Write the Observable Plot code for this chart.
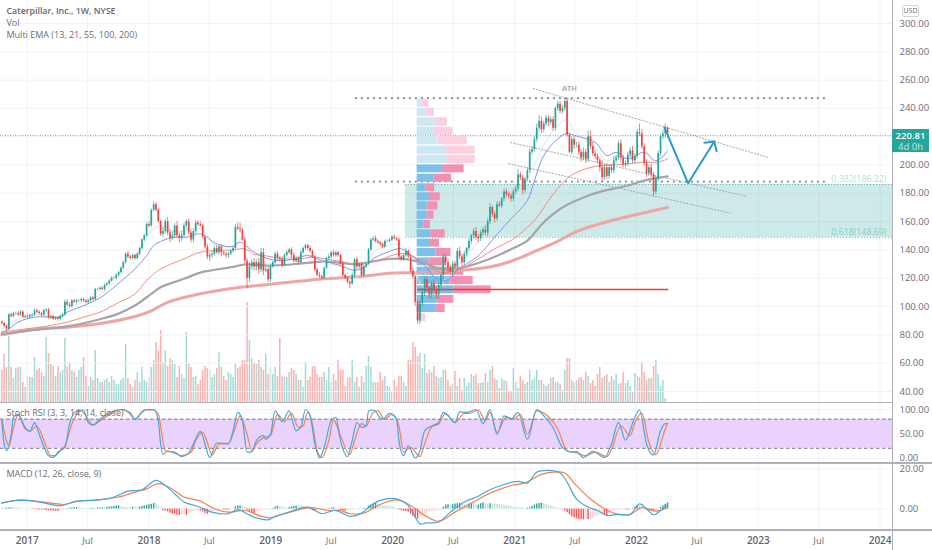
<!DOCTYPE html>
<html><head><meta charset="utf-8">
<script src="https://cdn.jsdelivr.net/npm/d3@7"></script>
<script src="https://cdn.jsdelivr.net/npm/@observablehq/plot@0.6"></script>
<style>
html,body{margin:0;padding:0;background:#fff;overflow:hidden}
#chart{position:relative;width:932px;height:550px;font-family:"Open Sans",sans-serif}
#chart svg{position:absolute;left:0;background:transparent;display:block}
.sep{position:absolute;background:#b0b1b7}
.tag{position:absolute;left:892px;top:129px;width:37px;height:23px;background:#26a69a;color:#fff;font-size:9.5px;line-height:11px;text-align:center;padding-top:1px;box-sizing:border-box}
.tag b{display:block;font-weight:600}.tag span{color:#c4e9e4}
.usd{position:absolute;left:902px;top:5px;width:15px;height:10px;border:1px solid #d5d6db;border-radius:2px;font-size:7px;line-height:10px;text-align:center;color:#6a6d78;box-sizing:content-box}
</style></head><body><div id="chart"></div>
<script>
const FONT='"Open Sans",sans-serif';
const closes=[88,86,84,94,93,95,95,94,96,92.5,
93,92.5,93.5,94,97,96,95,94,97,97.5,
92,93,91,92,91,93,94,103,101,100,
104,103,104,104,105,104,103,104,106,105,
112,112,113,112,115,116,118,120,120,122,
124,127,131,137,135,134,136,134,137,141,
147,150,158,157,168,172,168,160,151,153,
160,152,148,150,157,150,148,150,157,160,
152,147,153,159,158,157,149,142,135,136,
137,141,138,142,138,137,136,137,139,141,
156,155,154,147,132,120,128,131,128,131,
126,138,125,126,119,128,131,137,134,133,
129,136,138,140,136,132,134,131,
138,141,143,141,139,135,126,122,
121,120,127,134,135,138,136,138,136,130,
122,120,117,116,122,133,128,130,122,128,
130,140,147,148,146,145,144,142,146,146,
147,149,148,147,135,133,136,139,135,125,
121,103,90,102,110,119,113,108,116,112,
108,115,122,135,131,127,124,130,128,139,
135,131,137,141,146,150,153,149,148,152,154,152,
160,170,165,162,172,171,176,181,179,178,176,181,
183,193,191,182,190,196,209,211,218,226,231,225,
229,233,230,232,226,240,243,238,240,245,221,
209,218,214,214,209,205,209,204,220,213,208,206,203,
198,191,198,192,198,196,203,205,215,205,200,201,207,210,203,206,
223,222,213,201,194,198,193,181,190,208,220,222,226,220.81];
const wickUp=[1,1,1,1,1.5,1,1,1.5,1,1,
1,1,1,1,1.5,1,1,1,1,1,
1,1,1,1,1,1,1,1.5,2,1.5,
1,1,1,1,1,1,1,1,1,1,
1,1,1,1,1,1,1,1,1,1,
1,1,1,1,2,1,1,1,1,1,
1,1,1,2,1,2,1.5,1.5,1,3,
1.5,3,2,3,1.5,3,2,3,2,1.5,
2,2,1.5,1.5,1.5,2,1.5,1.5,2,1.5,
2,1.5,2,1,1.5,1,1,1.5,1,1,
2,3,4,1.5,2,2,3,2,3,2,
3,3,3,2,2,2,1,1.5,2,1.5,
2,1.5,1.5,1,1.5,2,1,1,
1.5,1,1,1,1.5,1,1,1,
2,1,1,1,2,1,1.5,1,1,1,
1,1,1,1,1.5,1,2,1,1,1,
1,1,1,1.5,2,1,1,1,1,1,
1,1,1.5,1,1,1,1,2,1,2,
2,1,1,2,1,2,2,2,2,3,
2,2,1,2,2,3,2,2,2,2,
3,2,2,1,2,1,2,3,2,2,2,3,
2,3,1,2,2,2,1,2,2,2,2,2,
2,4,2,2,1,2,2,2,2,3,4,3,
2,2,2,2,2,1,2,2,2,2,2,
1,2,2,2,2,2,3,2,4,4,3,2,2,
2,5,2,3,2,2,3,2,2,3,2,2,2,2,3,2,
2,6,3,2,3,2,3,2,2,2,2,3,3,1];
const wickDown=[1,1,1.5,1,1,1,1,1,1,1,
1,1,1,1,1,1,1,1,1,1,
1,1,1,1,1.5,1,1,1,1,1,
1,1,1,1,1,1,1,1,1,1,
1,1,1,1,1,1,1,1,1,1,
1,1,1,1,1,1,1,1,1,1,
1,1,1,1,1,1,1,1,1.5,2,
2,2,3,1.5,2,2,3,2,1.5,2,
1.5,2,2,1.5,1.5,1,1.5,1.5,2,3,
2,1.5,1,2,3,1,2,2,1,1,
1,1.5,2,1,2,7.5,3,2,3,3,
3,2,3,1,2,2,1,1,2,1.5,
1.5,1,1,1,2,1,1,1,
1,1,1,1,1,1,1.5,1,
1,1,1,1,1.5,1,1,1,1,1,
1,1,1,3.5,1,2,2,2,1,1,
1,1,1,1,1,1,1.5,1,1,1,
1,1,1,1,2,1,1,1,1,1,
2,3,2.5,3,2,3,3,3,3,4,
3,3,2,3,2,3,2,3,2,2,
2,3,2,2,2,2,2,2,3,2,2,2,
3,2,2,3,2,1,2,2,2,2,2,2,
2,2,2,3,2,2,2,2,2,2,2,3,
2,2,3,2,2,2,2,2,2,2,1,
1,2,3,2,2,3,2,3,2,2,2,2,2,
3,3,2,2,2,2,2,2,2,3,2,2,2,2,2,2,
2,2,2,2,3,2,2,3,2,2,2,2,3,2];
const volume=[16,24,17.5,33,17.5,12,17,17.5,17.5,10,7.5,13,12.5,12.5,22.5,16,17,15,13,32.5,24.5,19,18,13,18,15,16,32,17.5,20,16,15,12.5,16,17.5,22.5,13,8,12.5,11,26,12,10,10,11,12,10,13,11,9,9,11,12,29,12,9,7.5,11,15,10,17.5,11,10,12.5,17.5,21,30,26,36,20,26,18,22,21,19,12.5,18,14,12,35,19,17.5,12.5,13,9,11,16,18,17,16,12.5,14,17,25,17.5,13,11,15,14,12.5,19,17,18,21,21,50,31,22,20,19,21,17.5,16,24,14,17.5,14,17.5,13,32,13,12.5,12.5,15,17,16,14,11,
11,7.5,20,11,12.5,18,18,14,12.5,12.5,15,11,17.5,10,14,11,21,16,16,8,12,12.5,21,10,12.5,7.5,13,10,18,23,17.5,10,10,10,15,11,13,8,7.5,5,11,8,13,
13,10,8,21,21,30,27.5,23,24.5,17,24,14.5,16,15,18,13,12,12.5,16,16,11,8,9,15.5,8,12,6,12,8,10,14,13,14,9.5,9.5,10,14.5,10,16,18,12,11,7,12,11,10.5,5,5.5,17,10,7,13,11,9,10,16,11,12,16,11,11,9,8,9,12,12.5,10,10,9,6,16,22,22,11,10,11,12,12.5,11,15,13,9.5,11,8,14,17.5,12,13,14,10,13,11,14,9,9.5,15,9.5,11,8,5.5,14.5,13,12.5,20,15,11,12,12,18,21,14,8,11,2];
const macdHist=[.4,.4,.5,.6,.7,.7,.6,.5,.4,.2,
.1,.1,.1,-.2,-.2,-.3,-.4,-.4,-.5,-.7,
-.8,-.9,-1,-1.1,-1.2,-1,-.6,-.2,.3,.5,
.6,.7,.8,.7,.5,.3,.2,.2,.3,.4,
.4,.5,.6,.7,.7,.9,1,1.1,1.3,1.4,
1.6,1,.9,.8,.8,.7,.9,.9,.8,1,
1.3,1.6,1.9,2.1,2.4,2.8,2.6,1.4,.5,-.8,
-1,-1.4,-2,-2.3,-2.5,-3,-3.2,-2.8,-2.5,-3,
-2.2,-1.6,-1.3,-1,-.9,-.9,-1.4,-2.2,-2.6,-2.2,
-1.2,-.9,-.7,-.5,-.4,-.4,-.5,-.5,-.3,-.1,
1.1,1.5,1.6,1.4,.8,-.6,-1.6,-2.2,-2.2,-1.9,
-1.3,-.8,-.5,-.4,-.3,-.2,.3,1.1,1.4,1.2,
.9,.6,.6,.8,1.1,1.3,1.5,1.5,1.4,1.3,
1,.5,-.3,-.8,-1.2,-1.1,-.7,-.5,-.3,-.2,
.3,.5,.7,.6,.2,-.8,-1,-1.1,-.9,-.6,
-.3,-.2,.1,.2,.2,.3,.4,1.5,2,2.6,
3,2.2,1.9,1.7,1.5,1.4,1.3,1.1,.8,.4,
-.4,-.8,-1.1,-1.2,-1.5,-2.5,-3.5,-4.5,-5,-3.8,
-3,-2.4,-2,-1.6,-1.3,-1,-.7,-.5,-.3,.9,
2,2.2,1.9,2.2,2.5,2.7,3,2.9,2.3,2,
2.5,2.9,2.9,1.9,2,2.7,3.1,2.7,2.4,2.6,
2.5,2.5,2.3,2.2,2.2,1.8,1.5,1.5,1.2,1,
.9,.8,.7,.6,.3,.4,.7,1.3,2,2.5,
2.8,2.9,2.5,2.3,1.7,1.4,1.1,.7,.3,.3,
-.3,-.9,-1.8,-2.7,-3.8,-4.3,-4.8,-5.2,-5.3,-5.3,
-5.2,-5.2,-4.9,-4.5,-3.8,-3.5,-2.8,-2.4,-2.8,-3.4,
-2.6,-2,-1.2,-.8,-.5,-.3,-.2,-.3,-.4,-.3,
.3,.9,1.6,1.5,1,.3,-.5,-.9,-1.2,-1.4,
-1.2,-.4,.8,1.7,2.4,3.1];
const ema13=[[0,84],[7,91],[14,94],[25,93],[28,99],[35,103],[42,108],[49,119],[57,133],[62,148],[65,155],[69,157],[74,153],[85,155],[92,143],[99,143],[103,148],[107,138],[114,130],[121,134],[128,136],[133,136],[138,131],[145,128],[151,120],[155,127],[159,138],[165,143],[171,143],[176,128],[181,113],[186,113],[191,122],[195,128],[204,146],[212,160],[218,173],[225,190],[232,214],[238,228],[242,232],[245,224],[254,212],[259,203],[263,206],[268,205],[272,213],[275,212],[280,200],[285,212]];
const ema21=[[0,82],[2,83],[7,89],[14,92.5],[21,92.5],[25,92.5],[28,96],[35,100.7],[42,106],[49,115],[57,126.6],[62,136],[65,143],[69,146.7],[74,149],[79,149],[85,151.4],[92,144.3],[99,142.4],[102,145.5],[107,139.6],[114,133.7],[121,132.5],[128,135],[131,136],[138,132],[145,129],[151,125.5],[155,127.8],[159,133.7],[165,138.4],[171,140.8],[176,135],[181,129],[186,119.6],[191,118.4],[195,125.5],[204,136],[212,151],[218,162],[225,175],[228,189],[232,206.7],[238,218.5],[242,222.5],[245,221],[254,216],[259,206.7],[263,209],[268,204.3],[275,209],[280,203],[285,209.5]];
const ema55=[[0,82],[14,85],[21,86.6],[28,89],[35,92.5],[42,96],[49,102],[57,109],[62,118.4],[67,125.5],[71,129],[78,133.7],[85,138.4],[92,139.6],[99,140],[104,140.8],[108,137],[114,135.6],[121,133.7],[128,133.7],[134,135],[138,133.7],[145,132],[152,129.7],[161,132.5],[169,137],[174,137],[181,130.6],[188,124],[195,125.5],[204,133.7],[211,140.8],[218,146.7],[220,149],[228,160.8],[235,177],[241,189],[245,194],[254,199],[268,200.8],[275,202],[281,202],[285,204.3]];
const ema100=[[0,80.7],[7,82],[14,83.5],[28,86],[42,91],[50,95],[57,100.7],[64,109],[68,113.7],[78,119.6],[85,124],[99,128],[104,129.7],[114,129],[124,129.7],[138,131.8],[152,130],[159,132],[166,133.7],[172,133.7],[181,130.6],[188,126.6],[195,126.6],[202,129.7],[209,133.7],[218,140.5],[225,146.6],[232,159.6],[240,170],[249,177],[256,181],[268,185.5],[275,189],[285,192]];
const ema200=[[0,80],[14,84],[28,85.4],[42,88],[57,93],[64,97],[71,103],[85,109],[99,113],[114,115.6],[128,118],[138,119.6],[152,121],[166,123.5],[178,124],[195,125.5],[209,128],[218,132],[231,141],[239,147],[246,153],[253,157],[268,163.6],[276,166.6],[285,170]];
const stochK=[[0,77],[1,29],[2,15],[4,49],[5,84],[7,90],[10,63],[12,55],[14,73],[15,63],[17,36],[20,5],[22,1],[24,12],[27,22],[29,70],[32,97],[35,99],[37,73],[39,68],[42,80],[45,90],[49,99],[52,100],[55,90],[57,80],[60,94],[62,100],[65,100],[67,77],[68,29],[69,8],[71,14],[74,12],[77,3],[80,10],[82,29],[85,55],[87,29],[89,1],[92,31],[97,29],[99,56],[101,94],[103,77],[105,12],[107,12],[109,36],[112,46],[113,39],[115,49],[117,97],[120,75],[123,97],[126,56],[128,63],[130,100],[132,87],[134,29],[136,0],[138,22],[141,77],[143,84],[145,36],[148,3],[150,36],[152,73],[154,63],[156,66],[157,97],[159,99],[163,80],[166,92],[169,80],[170,36],[172,5],[174,25],[177,0],[179,15],[181,56],[185,68],[187,73],[189,94],[191,87],[194,73],[196,95],[199,94],[203,100],[206,71],[209,100],[212,49],[215,87],[218,80],[221,94],[225,39],[229,100],[232,87],[236,63],[240,22],[244,12],[246,14],[249,1],[253,14],[258,1],[261,29],[264,73],[267,37],[271,84],[273,99],[276,29],[279,6],[282,56],[284,71],[285,71]];
const stochD=[[0,80],[2,36],[3,25],[5,63],[7,89],[10,60],[12,55],[15,66],[18,37],[21,5],[23,5],[25,15],[27,25],[30,70],[34,97],[36,87],[39,68],[43,80],[47,92],[51,100],[55,94],[57,80],[61,99],[65,99],[67,90],[70,15],[72,13],[75,8],[77,5],[81,12],[83,36],[86,53],[88,32],[90,6],[93,29],[97,30],[100,63],[102,87],[105,49],[107,15],[109,29],[112,42],[115,46],[118,90],[121,75],[124,92],[127,63],[129,66],[131,94],[133,70],[135,15],[137,1],[140,36],[142,78],[145,46],[149,7],[151,36],[154,71],[156,66],[159,94],[161,97],[164,80],[167,90],[170,66],[172,12],[175,22],[179,3],[181,29],[184,64],[187,70],[190,92],[194,73],[198,92],[200,92],[204,99],[207,77],[209,94],[212,53],[216,85],[219,80],[222,90],[225,49],[229,97],[234,85],[238,60],[242,15],[245,12],[250,5],[254,12],[259,3],[261,18],[265,66],[269,46],[271,73],[274,92],[277,32],[280,7],[284,60],[285,71]];
const macdLine=[[0,3.1],[7,4.3],[14,4],[18,3.1],[25,1.7],[32,4],[39,4.3],[47,5.6],[54,8.9],[60,9.6],[66,14.2],[70,11.7],[74,7.6],[78,3.5],[84,1.3],[90,-1.5],[97,-2.3],[101,-.3],[105,-2.3],[108,-4],[114,-5.3],[117,-3.6],[122,-1.8],[131,1],[137,-2.3],[142,-.7],[145,-1.5],[149,-3.6],[154,-2],[158,1.8],[162,4.3],[169,5.1],[174,1.8],[177,-4],[179,-7.3],[182,-6.8],[187,-6.4],[192,-1.5],[198,3.5],[204,6.4],[209,9.6],[215,12.2],[221,13.7],[225,12.9],[229,18.3],[234,19.2],[239,17.9],[242,13.4],[246,5.1],[251,1],[255,-.7],[259,-3.1],[264,-2.6],[269,-2.6],[273,2.6],[276,.2],[279,-2.8],[282,-.7],[285,2.3]];
const macdSignal=[[0,3],[7,4.5],[14,4],[21,3],[27,2.3],[32,3.8],[41,4.6],[50,6],[57,8.4],[62,10],[67,12.6],[72,10.6],[78,6],[85,4],[91,.2],[97,-1.5],[104,-.7],[111,-3.6],[115,-4.3],[122,-2],[132,.7],[140,-.7],[145,-.7],[149,-2.3],[155,-2],[161,1.8],[169,4.6],[175,1.8],[181,-3.1],[187,-6],[194,-1.5],[202,3.5],[209,7.9],[218,11.7],[224,13],[231,17.2],[236,18.3],[241,17.9],[245,12.9],[251,6],[258,.2],[264,-2.6],[269,-2.6],[274,.7],[280,-1],[285,.7]];
const profileHi=[246.3,240.1,233.4,226.7,220.1,213.3,206.9,200.1,193.5,186.7,180.4,174,167.4,160.8,154.2,147.6,141,134.4,127.8,121.2,114.6,107.8,101.4,94.9];
const profileLo=[240.9,234.3,227.4,220.8,214.3,207.6,201.1,194.5,187.8,181.3,174.7,168.3,161.7,155.1,148.6,142,135.3,128.8,122.1,115.6,109,102.3,95.8,89.2];
const profileUp=[2.1,3.7,7.9,7.4,9,12.1,12.9,10.4,7.1,3.9,5.3,4.3,4.3,3,5.9,5.3,8.1,5,10,14,15.7,8.6,7.9,1.1];
const profileDown=[2.9,3.7,5,8,12.4,12.7,12,9.7,7.6,3.6,4.6,4.6,2.9,2.7,6.1,4.3,6.4,7.6,10,10,16,7.1,4.1,2.6];
const profileInValueArea=[0,0,0,0,0,0,0,1,1,1,1,1,1,1,1,1,1,1,1,1,1,1,1,0];
const priceTicks=[300,280,260,240,220,200,180,160,140,120,100,80,60,40];
const priceTickLabels=[300,280,260,240,200,180,160,140,120,100,80,60,40];
const stochTicks=[100,50,0];
const macdTicks=[20,0];
const yearTicks=["2017","2018","2019","2020","2021","2022","2023","2024"];
const julTicks=["2017","2018","2019","2020","2021","2022","2023"];
const lastPrice=220.81;
const fibLevels=[186.22,148.69];
const fibLabels=["0.382(186.22)","0.618(148.69)"];
const dottedLevels=[247.2,188.3];
const supportLevel=[112];
const trendLines=[[[227.6,254],[328.2,205.3]],[[217.8,215.9],[318.4,178]],[[216.9,201],[311.9,166]]];
const arrowPath=[[283.7,226.5],[293.8,187.1],[305,216.6]];
const arrowHead=[[300.8,215.7],[305,216.6],[306,209.8]];
const wk=i=>new Date(Date.UTC(2016,9,17)+i*7*864e5);
const xDomain=[wk(-0.556),wk(381.3)];
const xScale={domain:xDomain,range:[0,892],axis:null};
const GRID="#f2f3f9",GREEN="#26a69a",RED="#f4433f";
const candles=closes.map((c,i)=>{const o=i?closes[i-1]:89;return {x:wk(i),o,c,h:Math.max(o,c)+wickUp[i],l:Math.min(o,c)-wickDown[i],v:volume[i],up:c>=o}});
const hist=macdHist.map((v,i)=>({x:wk(i),v,rise:i&&v>macdHist[i-1]}));
const allTicks=[...yearTicks.map(y=>new Date(y+"-01-01")),...julTicks.map(y=>new Date(y+"-07-01"))];
const profile=profileHi.map((h,i)=>({h,l:profileLo[i],u:profileUp[i],d:profileDown[i],va:profileInValueArea[i]}));
const BASE=177.8;
const base=(h,top)=>Object.assign({width:932,height:h,marginLeft:0,marginRight:40,marginTop:0,marginBottom:0,x:xScale,style:{fontFamily:FONT}},top);
const chart=document.getElementById("chart");
function place(svg,top){svg.style.top=top+"px";chart.appendChild(svg)}
const gridX=()=>Plot.ruleX(allTicks,{x:d=>d,stroke:GRID});
const priceY={domain:[32.2,316.25],range:[402,0],axis:null};
const ln=(data,stroke,w,o={})=>Plot.line(data,{x:d=>wk(d[0]),y:d=>d[1],stroke,strokeWidth:w,curve:"catmull-rom",...o});
// volume pane
place(Plot.plot(base(402,{y:{domain:[0,201],range:[402,0],axis:null},marks:[
 Plot.ruleX(candles.filter(d=>d.up),{x:"x",y1:0,y2:"v",stroke:"#a6d9d4",strokeWidth:1.5}),
 Plot.ruleX(candles.filter(d=>!d.up),{x:"x",y1:0,y2:"v",stroke:"#fab1ae",strokeWidth:1.5})
]})),0);
// price pane
const fibBox=[{a:wk(172.8),b:xDomain[1],hi:fibLevels[0],lo:fibLevels[1]}];
const dotted={strokeDasharray:"0.1 5.9",strokeLinecap:"round",strokeWidth:2.2,stroke:"#8d8e96"};
const pv=profile;
const pricePlot=Plot.plot(base(402,{y:priceY,marks:[
 gridX(),
 Plot.ruleY(priceTicks,{y:d=>d,stroke:GRID}),
 Plot.rect(fibBox,{x1:"a",x2:"b",y1:"lo",y2:"hi",fill:"#26a69a",fillOpacity:.23}),
 Plot.ruleY(fibLevels,{y:d=>d,x1:wk(172.8),x2:xDomain[1],stroke:GREEN,strokeOpacity:.7,strokeDasharray:"1 2"}),
 Plot.ruleY([lastPrice],{y:d=>d,stroke:GREEN,strokeOpacity:.75,strokeDasharray:"1 1.5"}),
 Plot.ruleY(dottedLevels,{y:d=>d,x1:wk(151.8),x2:wk(352.5),...dotted}),
 ...trendLines.map(t=>Plot.line(t,{x:d=>wk(d[0]),y:d=>d[1],stroke:"#a6a7ae",strokeWidth:1,strokeDasharray:"1.2 2"})),
 Plot.rect(pv.filter(d=>d.va),{x1:()=>wk(BASE),x2:d=>wk(BASE+d.u),y1:"l",y2:"h",fill:"#7cc1ea"}),
 Plot.rect(pv.filter(d=>d.va),{x1:d=>wk(BASE+d.u),x2:d=>wk(BASE+d.u+d.d),y1:"l",y2:"h",fill:"#f490b4"}),
 Plot.rect(pv.filter(d=>!d.va),{x1:()=>wk(BASE),x2:d=>wk(BASE+d.u),y1:"l",y2:"h",fill:"#cde8f5"}),
 Plot.rect(pv.filter(d=>!d.va),{x1:d=>wk(BASE+d.u),x2:d=>wk(BASE+d.u+d.d),y1:"l",y2:"h",fill:"#fccfe1"}),
 ln(ema200,"#f0a5a5",3),
 ln(ema100,"#a6a6aa",2.2),
 ln(ema55,"#f68c83",1),
 ln(ema13,"#cdeee3",1),
 ln(ema21,"#8593ea",1),
 Plot.ruleX(candles.filter(d=>d.up),{x:"x",y1:"l",y2:"h",stroke:GREEN,strokeWidth:.7}),
 Plot.ruleX(candles.filter(d=>d.up),{x:"x",y1:"o",y2:"c",stroke:GREEN,strokeWidth:1.7}),
 Plot.ruleX(candles.filter(d=>!d.up),{x:"x",y1:"l",y2:"h",stroke:RED,strokeWidth:.7}),
 Plot.ruleX(candles.filter(d=>!d.up),{x:"x",y1:"o",y2:"c",stroke:RED,strokeWidth:1.7}),
 Plot.ruleY(supportLevel,{y:d=>d,x1:wk(178),x2:wk(285.5),stroke:"#ee3b3b",strokeWidth:1.5}),
 Plot.line(arrowPath,{x:d=>wk(d[0]),y:d=>d[1],stroke:"#2a9bcd",strokeWidth:2,strokeLinejoin:"miter"}),
 Plot.line(arrowHead,{x:d=>wk(d[0]),y:d=>d[1],stroke:"#2a9bcd",strokeWidth:2,strokeLinejoin:"miter"}),
 Plot.text(["ATH"],{x:()=>wk(243),y:()=>254,text:d=>d,fontSize:7.5,fill:"#9a9ba3",fontWeight:600}),
 Plot.text([fibLabels[0]],{x:()=>wk(378.7),y:()=>fibLevels[0],text:d=>d,textAnchor:"end",dy:-5,fontSize:8.8,fill:"#b2dfd9"}),
 Plot.text([fibLabels[1]],{x:()=>wk(378.7),y:()=>fibLevels[1],text:d=>d,textAnchor:"end",dy:-5,fontSize:8.8,fill:"#86cfc6"}),
 Plot.text(["Caterpillar, Inc., 1W, NYSE"],{frameAnchor:"top-left",dx:6,dy:7,text:d=>d,fontSize:8.8,fontWeight:600,fill:"#6a6577"}),
 Plot.text(["Vol"],{frameAnchor:"top-left",dx:6,dy:19,text:d=>d,fontSize:9,fill:"#6a6d78"}),
 Plot.text(["Multi EMA (13, 21, 55, 100, 200)"],{frameAnchor:"top-left",dx:6,dy:31,text:d=>d,fontSize:9,fill:"#6a6d78"}),
 Plot.axisY(priceTickLabels,{anchor:"right",tickSize:0,tickPadding:7,tickFormat:d=>d.toFixed(2),label:null,fontSize:9.5,fill:"#6a6d78"})
]}));
place(pricePlot,0);
// stoch pane
const band=[{a:xDomain[0],b:xDomain[1],lo:20,hi:80}];
place(Plot.plot(base(60,{y:{domain:[-11.3,112.4],range:[60,0],axis:null},marks:[
 gridX(),
 Plot.ruleY(stochTicks,{y:d=>d,stroke:GRID}),
 Plot.rect(band,{x1:"a",x2:"b",y1:"lo",y2:"hi",fill:"#e9d2fb"}),
 Plot.ruleY([80,20],{y:d=>d,stroke:"#7b7c86",strokeDasharray:"3.5 2.5"}),
 Plot.line(stochD,{x:d=>wk(d[0]),y:d=>d[1],stroke:"#f4824f",strokeWidth:1.2,curve:"monotone-x"}),
 Plot.line(stochK,{x:d=>wk(d[0]),y:d=>d[1],stroke:"#45a8de",strokeWidth:1.2,curve:"monotone-x"}),
 Plot.text(["Stoch RSI (3, 3, 14, 14, close)"],{frameAnchor:"top-left",dx:6,dy:6,text:d=>d,fontSize:9,fill:"#6a6d78"}),
 Plot.axisY(stochTicks,{anchor:"right",tickSize:0,tickPadding:7,tickFormat:d=>d.toFixed(2),label:null,fontSize:9.5,fill:"#6a6d78"})
]})),403);
// macd pane
const hs=[[d=>d.v>=0&&d.rise,"#26a69a"],[d=>d.v>=0&&!d.rise,"#b2dfdb"],[d=>d.v<0&&!d.rise,"#ff5252"],[d=>d.v<0&&d.rise,"#ffcdd2"]];
place(Plot.plot(base(67,{y:{domain:[-10.6,22.6],range:[67,0],axis:null},marks:[
 gridX(),
 Plot.ruleY(macdTicks,{y:d=>d,stroke:GRID}),
 ...hs.map(([f,c])=>Plot.ruleX(hist.filter(f),{x:"x",y1:0,y2:"v",stroke:c,strokeWidth:1.4})),
 Plot.line(macdSignal,{x:d=>wk(d[0]),y:d=>d[1],stroke:"#f4824f",strokeWidth:1.2,curve:"catmull-rom"}),
 Plot.line(macdLine,{x:d=>wk(d[0]),y:d=>d[1],stroke:"#45a8de",strokeWidth:1.2,curve:"catmull-rom"}),
 Plot.text(["MACD (12, 26, close, 9)"],{frameAnchor:"top-left",dx:6,dy:7,text:d=>d,fontSize:9,fill:"#6a6d78"}),
 Plot.axisY(macdTicks,{anchor:"right",tickSize:0,tickPadding:7,tickFormat:d=>d.toFixed(2),label:null,fontSize:9.5,fill:"#6a6d78"})
]})),463);
// time axis
place(Plot.plot(base(20,{y:{axis:null},marks:[
 Plot.text(yearTicks,{x:d=>new Date(d+"-01-01"),text:d=>d,frameAnchor:"middle",fontSize:10,fontWeight:600,fill:"#5f6270"}),
 Plot.text(julTicks,{x:d=>new Date(d+"-07-01"),text:()=>"Jul",frameAnchor:"middle",fontSize:9.5,fill:"#6a6d78"})
]})),530);
// separators and price tag
for(const [l,t,w,h] of [[0,401.5,892,1.5],[0,462,932,1.5],[0,529,932,1.5],[891.5,0,1.5,550]]){
 const e=document.createElement("div");e.className="sep";e.style.cssText=`left:${l}px;top:${t}px;width:${w}px;height:${h}px`;chart.appendChild(e);
}
const tag=document.createElement("div");tag.className="tag";tag.innerHTML="<b>220.81</b><span>4d 0h</span>";chart.appendChild(tag);
const usd=document.createElement("div");usd.className="usd";usd.textContent="USD";chart.appendChild(usd);
</script></body></html>
